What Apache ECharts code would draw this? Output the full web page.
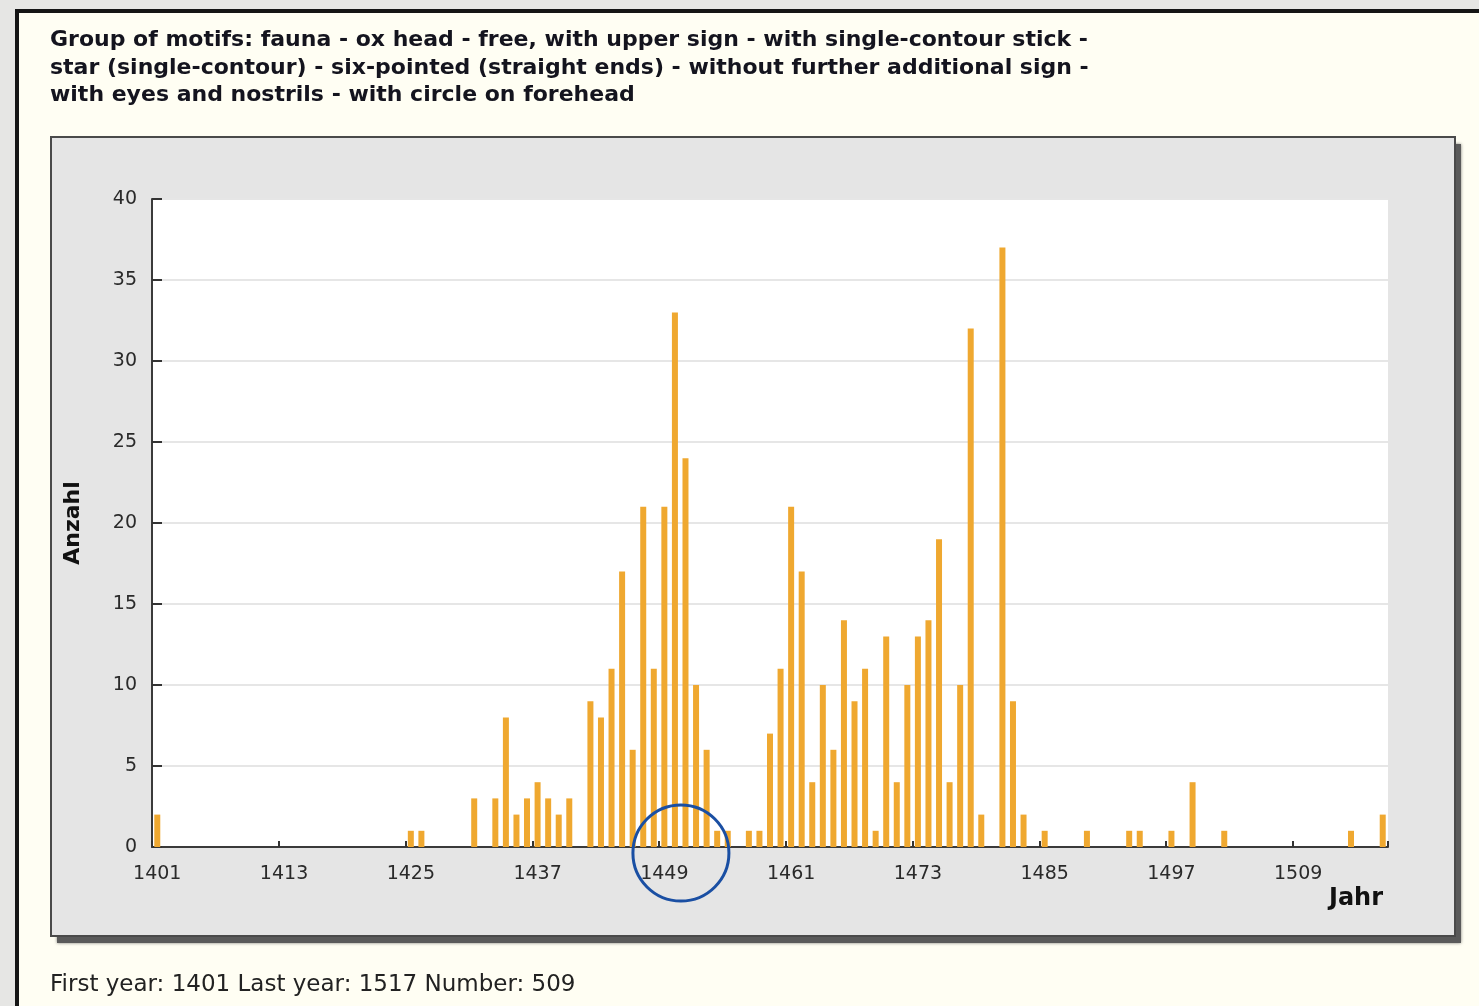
<!DOCTYPE html>
<html>
<head>
<meta charset="utf-8">
<script src="https://cdn.jsdelivr.net/npm/echarts@6/dist/echarts.min.js"></script>
<style>
  html, body { margin: 0; padding: 0; width: 1479px; height: 1006px; overflow: hidden; background: #e6e6e4; }
  #page { position: absolute; left: 15px; top: 9px; right: 0; bottom: 0; background: #fffef3;
          border-left: 4px solid #151515; border-top: 4px solid #151515; }
  #chart { position: absolute; left: 0; top: 0; width: 1479px; height: 1006px; }
</style>
</head>
<body>
<div id="page"></div>
<div id="chart"></div>
<script>
// Years on the x axis (one category per year)
const firstYear = 1401;
const lastYear = 1517;
const years = [];
for (let y = firstYear; y <= lastYear; y++) years.push(String(y));

// Number of watermarks per year, 1401 … 1517
const counts = [
  2, 0, 0, 0, 0, 0, 0, 0, 0, 0,      // 1401-1410
  0, 0, 0, 0, 0, 0, 0, 0, 0, 0,      // 1411-1420
  0, 0, 0, 0, 1, 1, 0, 0, 0, 0,      // 1421-1430
  3, 0, 3, 8, 2, 3, 4, 3, 2, 3,      // 1431-1440
  0, 9, 8, 11, 17, 6, 21, 11, 21, 33, // 1441-1450
  24, 10, 6, 1, 1, 0, 1, 1, 7, 11,   // 1451-1460
  21, 17, 4, 10, 6, 14, 9, 11, 1, 13, // 1461-1470
  4, 10, 13, 14, 19, 4, 10, 32, 2, 0, // 1471-1480
  37, 9, 2, 0, 1, 0, 0, 0, 1, 0,     // 1481-1490
  0, 0, 1, 1, 0, 0, 1, 0, 4, 0,      // 1491-1500
  0, 1, 0, 0, 0, 0, 0, 0, 0, 0,      // 1501-1510
  0, 0, 0, 1, 0, 0, 2                // 1511-1517
];

const titleLines = [
  'Group of motifs: fauna - ox head - free, with upper sign - with single-contour stick -',
  'star (single-contour) - six-pointed (straight ends) - without further additional sign -',
  'with eyes and nostrils - with circle on forehead'
];
const totalCount = counts.reduce((a, b) => a + b, 0);
const footerText = 'First year: ' + firstYear + ' Last year: ' + lastYear + ' Number: ' + totalCount;
const circledYear = '1450';

const FONT = '"DejaVu Sans", Verdana, sans-serif';

const chart = echarts.init(document.getElementById('chart'), null, { renderer: 'canvas' });

chart.setOption({
  animation: false,
  backgroundColor: 'transparent',
  grid: {
    left: 152, right: 91, top: 199, bottom: 159,
    show: true, backgroundColor: '#ffffff', borderWidth: 0
  },
  xAxis: {
    type: 'category',
    data: years,
    boundaryGap: true,
    axisLine: { lineStyle: { color: '#3a3a3a', width: 2 } },
    axisTick: { show: true, inside: true, length: 6, interval: 11, lineStyle: { color: '#333', width: 2 } },
    axisLabel: { interval: 11, color: '#2a2a2a', fontSize: 19, fontFamily: FONT, margin: 18 },
    splitLine: { show: false }
  },
  yAxis: {
    type: 'value',
    min: 0, max: 40, interval: 5,
    name: 'Anzahl',
    nameLocation: 'middle',
    nameGap: 68,
    nameRotate: 90,
    nameTextStyle: { fontFamily: FONT, fontWeight: 'bold', fontSize: 22, color: '#111' },
    axisLine: { show: true, lineStyle: { color: '#3a3a3a', width: 2 } },
    axisTick: { show: true, inside: true, length: 10, lineStyle: { color: '#333', width: 2 } },
    axisLabel: { color: '#2a2a2a', fontSize: 19, fontFamily: FONT, margin: 15 },
    splitLine: { lineStyle: { color: '#e6e6e6', width: 2 } }
  },
  series: [{
    type: 'bar',
    data: counts,
    barWidth: 6,
    itemStyle: { color: '#efa830' }
  }],
  graphic: [
    {
      // drop shadow behind the chart panel
      id: 'panelShadow', type: 'rect', z: -11,
      shape: { x: 57, y: 144, width: 1404, height: 799 },
      style: { fill: '#5a5a5a', shadowBlur: 3, shadowColor: 'rgba(0,0,0,0.5)' }
    },
    {
      id: 'panel', type: 'rect', z: -10,
      shape: { x: 51, y: 137, width: 1404, height: 799 },
      style: { fill: '#e5e5e5', stroke: '#4a4a4a', lineWidth: 2 }
    },
    {
      id: 'heading', type: 'text', x: 50, y: 27,
      style: {
        text: titleLines.join('\n'),
        font: 'bold 22px ' + FONT, fill: '#14141e', lineHeight: 27.5
      }
    },
    {
      id: 'footer', type: 'text', x: 50, y: 985,
      style: { text: footerText, font: '23px ' + FONT, fill: '#222', verticalAlign: 'middle' }
    },
    {
      id: 'xname', type: 'text', x: 1383, y: 899,
      style: { text: 'Jahr', font: 'bold 24px ' + FONT, fill: '#111', align: 'right', verticalAlign: 'middle' }
    }
  ]
});

// Ring drawn around the 1449/1450 label area
const p = chart.convertToPixel({ gridIndex: 0 }, [circledYear, 0]);
chart.setOption({
  graphic: [{
    id: 'ring', type: 'circle', z: 20,
    shape: { cx: p[0] + 6, cy: p[1] + 6, r: 48 },
    style: { fill: 'none', stroke: '#1a4fa3', lineWidth: 3 }
  }]
});
</script>
</body>
</html>
